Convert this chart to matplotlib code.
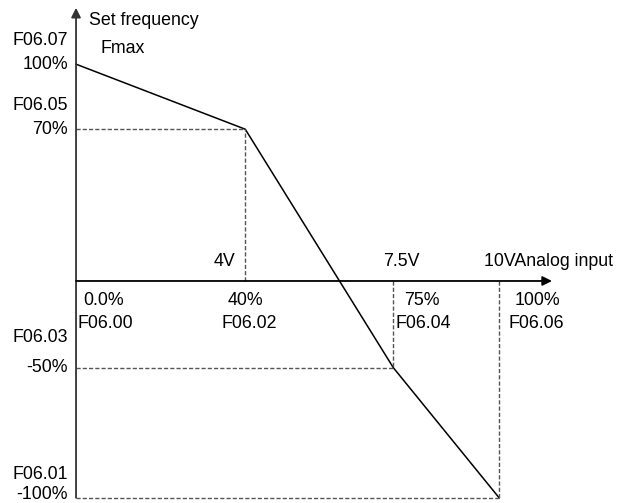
import matplotlib.pyplot as plt

plt.rcParams['font.family'] = ['Liberation Sans', 'DejaVu Sans']

# ---------- Data (analog input % -> set frequency level as drawn) ----------
x_pts = [0, 40, 75, 100]
y_pts = [100, 70, -40, -100]

y_labels = ["100%", "70%", "-50%", "-100%"]
y_params = ["F06.07", "F06.05", "F06.03", "F06.01"]
x_pct = ["0.0%", "40%", "75%", "100%"]
x_params = ["F06.00", "F06.02", "F06.04", "F06.06"]
volt_labels = {40: "4V", 75: "7.5V"}

FS = 12.8

# ---------- Figure ----------
fig = plt.figure(figsize=(6.18, 5.03), dpi=100)
ax = fig.add_axes([0, 0, 1, 1])
ax.set_xlim(-17.97, 128.1)
ax.set_ylim(-102.4, 129.6)
ax.axis("off")

# axes with arrows
ax.annotate("", xy=(0, 126), xytext=(0, -100),
            arrowprops=dict(arrowstyle="-|>", color="#333333", lw=1.3,
                            mutation_scale=14, shrinkA=0, shrinkB=0))
ax.annotate("", xy=(112.5, 0), xytext=(0, 0),
            arrowprops=dict(arrowstyle="-|>", color="black", lw=1.3,
                            mutation_scale=14, shrinkA=0, shrinkB=0))

# curve
ax.plot(x_pts, y_pts, color="black", lw=1.1)

# dashed guides
dash = dict(color="#555555", lw=1.0, ls=(0, (3, 1.5)))
for xv, yv in zip(x_pts[1:], y_pts[1:]):
    ax.plot([xv, xv], [0, yv], **dash)
    ax.plot([0, xv], [yv, yv], **dash)

# y-axis labels (small nudges so they sit like the original)
lab_dy = [0, 0, 0, 1.4]
par_dy = [11, 11, 14, 10.6]
for yv, lab, par, dl, dp in zip(y_pts, y_labels, y_params, lab_dy, par_dy):
    ax.text(-1.9, yv + dl, lab, ha="right", va="center", fontsize=FS)
    ax.text(-1.9, yv + dp, par, ha="right", va="center", fontsize=FS)

# x-axis labels
pct_dx = [6.4, 0, 6.8, 9]
par_dx = [6.9, 1, 7, 8.7]
for xv, pct, par, dx, dp in zip(x_pts, x_pct, x_params, pct_dx, par_dx):
    ax.text(xv + dx, -9, pct, ha="center", va="center", fontsize=FS)
    ax.text(xv + dp, -19.8, par, ha="center", va="center", fontsize=FS)

ax.text(35, 9, volt_labels[40], ha="center", va="center", fontsize=FS)
ax.text(77, 9, volt_labels[75], ha="center", va="center", fontsize=FS)

ax.text(96.5, 9, "10VAnalog input", ha="left", va="center", fontsize=FS)
ax.text(3.1, 120, "Set frequency", ha="left", va="center", fontsize=FS)
ax.text(5.7, 107, "Fmax", ha="left", va="center", fontsize=FS)

fig.savefig("out.png", dpi=100)
